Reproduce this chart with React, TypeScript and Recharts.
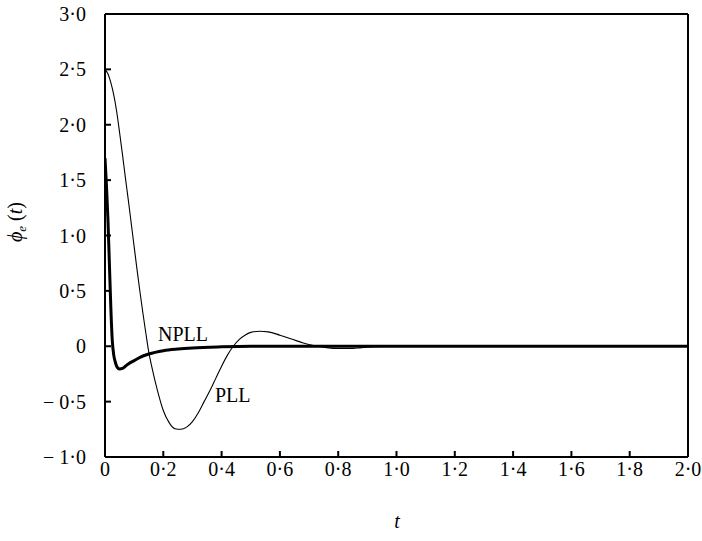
import { LineChart, Line, XAxis, YAxis, ReferenceLine } from "recharts";

// time grid and response of the conventional PLL (thin curve)
const pllT = [
  0, 0.01, 0.02, 0.03, 0.04, 0.05, 0.06, 0.07, 0.08, 0.09, 0.1, 0.11, 0.12, 0.13, 0.14, 0.15, 0.16,
  0.18, 0.2, 0.22, 0.24, 0.26, 0.28, 0.3, 0.32, 0.34, 0.36, 0.38, 0.4, 0.42, 0.44, 0.46, 0.48, 0.5,
  0.53, 0.56, 0.6, 0.64, 0.68, 0.72, 0.76, 0.8, 0.84, 0.88, 0.92, 1.0, 1.2, 1.5, 2.0,
];
const pllPhi = [
  2.5, 2.46, 2.38, 2.27, 2.12, 1.93, 1.73, 1.52, 1.32, 1.11, 0.9, 0.69, 0.49, 0.3, 0.12, -0.05, -0.18,
  -0.4, -0.58, -0.69, -0.745, -0.75, -0.73, -0.68, -0.6, -0.5, -0.4, -0.29, -0.18, -0.08, 0, 0.06, 0.1, 0.125,
  0.135, 0.13, 0.1, 0.065, 0.03, 0.005, -0.012, -0.02, -0.02, -0.012, -0.005, 0, 0, 0, 0,
];

// time grid and response of the NPLL (thick curve)
const npllT = [
  0, 0.005, 0.01, 0.015, 0.02, 0.025, 0.03, 0.035, 0.04, 0.05, 0.06, 0.07, 0.08, 0.1, 0.12, 0.15,
  0.2, 0.25, 0.3, 0.4, 0.5, 1.0, 1.5, 2.0,
];
const npllPhi = [
  1.7, 1.45, 1.15, 0.75, 0.35, 0.05, -0.08, -0.14, -0.18, -0.205, -0.2, -0.18, -0.16, -0.13, -0.1, -0.07,
  -0.04, -0.025, -0.015, -0.005, 0, 0, 0, 0,
];

const xTicks = [0, 0.2, 0.4, 0.6, 0.8, 1.0, 1.2, 1.4, 1.6, 1.8, 2.0];
const yTicks = [-1, -0.5, 0, 0.5, 1, 1.5, 2, 2.5, 3];

const pllData = pllT.map((t, i) => ({ t, phi: pllPhi[i] }));
const npllData = npllT.map((t, i) => ({ t, phi: npllPhi[i] }));

const fmt = (v: number) =>
  v === 0 ? "0" : (v < 0 ? "\u2212 " : "") + Math.abs(v).toFixed(1).replace(".", "\u00b7");

const FONT = "Liberation Serif, Times New Roman, Times, serif";

// tick renderers so the serif font is set straight on the text element
const XTick = ({ x, y, payload }: any) => (
  <text x={x} y={y + 25} textAnchor="middle" fontFamily={FONT} fontSize={20} fill="#000">
    {fmt(payload.value)}
  </text>
);
const YTick = ({ y, payload }: any) => (
  <text x={86} y={y + 7} textAnchor="end" fontFamily={FONT} fontSize={20} fill="#000">
    {fmt(payload.value)}
  </text>
);

export default function App() {
  return (
    <div style={{ position: "absolute", left: 0, top: 0, width: 702, height: 541, background: "#fff" }}>
      <LineChart width={702} height={541} margin={{ top: 14, right: 14, bottom: 54, left: 45 }}>
        <XAxis
          type="number"
          dataKey="t"
          domain={[0, 2]}
          ticks={xTicks}
          allowDataOverflow
          height={30}
          tickSize={-6}
          tickMargin={0}
          stroke="#000"
          axisLine={{ strokeWidth: 2 }}
          tickLine={{ strokeWidth: 2 }}
          tick={<XTick />}
        />
        <YAxis
          type="number"
          domain={[-1, 3]}
          ticks={yTicks}
          allowDataOverflow
          width={60}
          tickSize={-6}
          tickMargin={0}
          stroke="#000"
          axisLine={{ strokeWidth: 2 }}
          tickLine={{ strokeWidth: 2 }}
          tick={<YTick />}
        />
        <ReferenceLine y={3} stroke="#000" strokeWidth={2} />
        <ReferenceLine x={2} stroke="#000" strokeWidth={2} />
        <Line
          data={pllData}
          dataKey="phi"
          type="monotone"
          stroke="#000"
          strokeWidth={1.1}
          dot={false}
          isAnimationActive={false}
        />
        <Line
          data={npllData}
          dataKey="phi"
          type="monotone"
          stroke="#000"
          strokeWidth={3}
          dot={false}
          isAnimationActive={false}
        />
      </LineChart>
      <svg
        width={702}
        height={541}
        style={{ position: "absolute", left: 0, top: 0, pointerEvents: "none" }}
        fontFamily={FONT}
      >
        <text x={158} y={341} fontSize={20}>NPLL</text>
        <text x={215} y={402} fontSize={20}>PLL</text>
        <text x={397} y={528} fontSize={20} fontStyle="italic" textAnchor="middle">t</text>
        <text transform="translate(22,222) rotate(-90)" fontSize={20} textAnchor="middle">
          <tspan fontStyle="italic">ϕ</tspan>
          <tspan fontStyle="italic" fontSize={13} dy={4}>e</tspan>
          <tspan dy={-4}> (</tspan>
          <tspan fontStyle="italic">t</tspan>
          <tspan>)</tspan>
        </text>
      </svg>
    </div>
  );
}
